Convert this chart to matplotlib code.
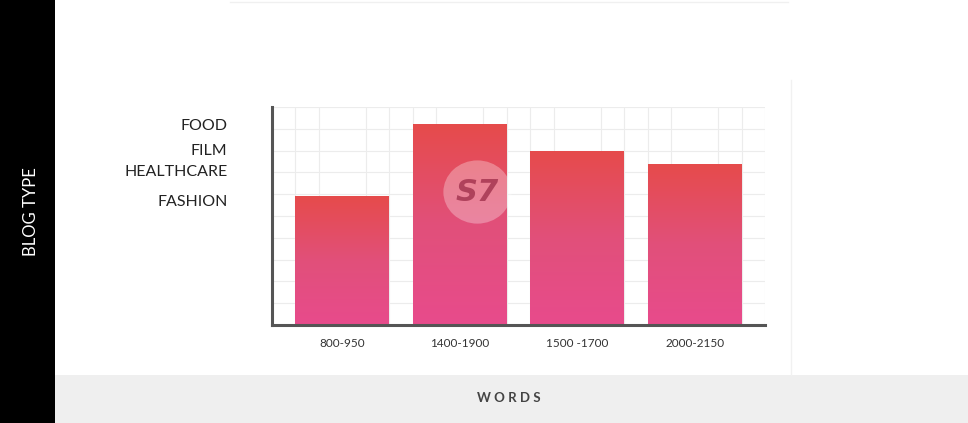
import numpy as np
import matplotlib
matplotlib.use("Agg")
import matplotlib.pyplot as plt
from matplotlib.colors import LinearSegmentedColormap
from matplotlib.patches import Rectangle, Circle

# datos
word_ranges = ["800-950", "1400-1900", "1500 -1700", "2000-2150"]
bar_heights = [5.9, 9.2, 8.0, 7.4]
blog_types = ["FOOD", "FILM", "HEALTHCARE", "FASHION"]
blog_type_pos = [9.2, 8.05, 7.1, 5.7]

bar_x = [3, 8, 13, 18]
bar_w = 4

fig = plt.figure(figsize=(9.68, 4.23), dpi=100)
fig.patch.set_facecolor("white")

# fondo: franja negra a la izquierda y banda gris abajo
fig.patches.append(Rectangle((0, 0), 55 / 968, 1, transform=fig.transFigure,
                             facecolor="black", edgecolor="none", zorder=0))
fig.patches.append(Rectangle((55 / 968, 0), 1, 48 / 423, transform=fig.transFigure,
                             facecolor="#efefef", edgecolor="none", zorder=0))
# marco tenue de la tarjeta
fig.lines.append(plt.Line2D([230 / 968, 788 / 968], [421 / 423, 421 / 423],
                            transform=fig.transFigure, color="#f0f0f0", lw=1))
fig.lines.append(plt.Line2D([791 / 968, 791 / 968], [48 / 423, 343 / 423],
                            transform=fig.transFigure, color="#f1f1f1", lw=1))

ax = fig.add_axes([272 / 968, 98 / 423, 493 / 968, 218 / 423])
ax.set_xlim(0, 21)
ax.set_ylim(0, 10)
ax.set_facecolor("white")

# rejilla
ax.set_xticks(np.arange(0, 22, 1), minor=True)
ax.set_yticks(np.arange(0, 11, 1), minor=True)
ax.grid(True, which="minor", color="#ececec", lw=0.8)
ax.tick_params(which="minor", length=0)

# barras con degradado
bars = ax.bar(bar_x, bar_heights, width=bar_w, color="none", edgecolor="none", zorder=2)
cmap = LinearSegmentedColormap.from_list("rp", ["#e84b8c", "#e1507a", "#e64b4b"])
grad = np.linspace(0, 1, 256).reshape(-1, 1)
for b in bars:
    x0, y0 = b.get_x(), b.get_y()
    im = ax.imshow(grad, cmap=cmap, origin="lower", aspect="auto",
                   extent=[x0, x0 + b.get_width(), y0, y0 + b.get_height()], zorder=2)
    im.set_clip_path(b)
ax.set_xlim(0, 21)
ax.set_ylim(0, 10)

# marca de agua
ax.add_patch(Circle((8.75, 6.1), 1.45, transform=ax.transData, facecolor="white",
                    alpha=0.3, edgecolor="none", zorder=3))
ax.text(8.75, 6.1, "S7", ha="center", va="center", fontsize=22, fontweight="bold",
        fontstyle="italic", color="#9c2c48", alpha=0.75, zorder=4)

# ejes
for s in ["top", "right"]:
    ax.spines[s].set_visible(False)
for s in ["left", "bottom"]:
    ax.spines[s].set_color("#555555")
    ax.spines[s].set_linewidth(2.2)
    ax.spines[s].set_zorder(5)

ax.set_xticks(bar_x)
ax.set_xticklabels(word_ranges, fontsize=8.5, color="#333333", family="Lato")
ax.set_yticks(blog_type_pos)
ax.set_yticklabels(blog_types, fontsize=11.5, color="#222222", family="Lato")
ax.tick_params(axis="x", which="major", length=0, pad=9)
ax.tick_params(axis="y", which="major", length=0, pad=32)

fig.text(31 / 968, 1 - 212 / 423, "BLOG TYPE", rotation=90, ha="center", va="center",
         color="white", fontsize=12, family="Lato")
fig.text(509 / 968, 1 - 398 / 423, "W O R D S", ha="center", va="center",
         color="#444444", fontsize=9.5, fontweight="bold", family="Lato")

fig.savefig("out.png", dpi=100)
